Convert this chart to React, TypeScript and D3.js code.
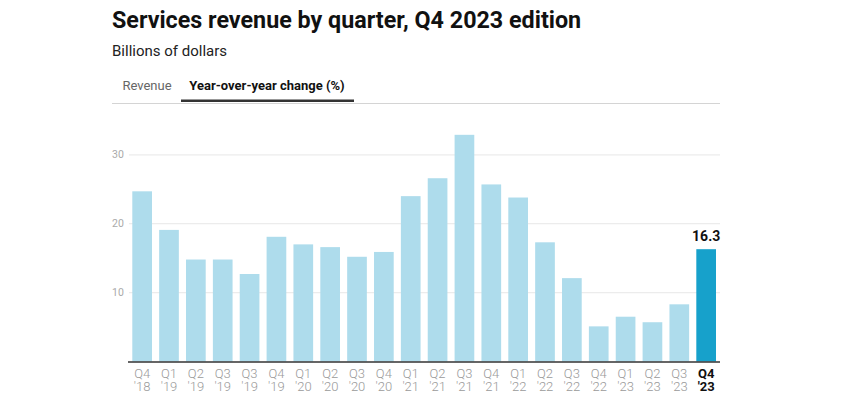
import React from "react";
import * as d3 from "d3";

const quarters = ["Q4","Q1","Q2","Q3","Q3","Q4","Q1","Q2","Q3","Q4","Q1","Q2","Q3","Q4","Q1","Q2","Q3","Q4","Q1","Q2","Q3","Q4"];
const years = ["'18","'19","'19","'19","'19","'19","'20","'20","'20","'20","'21","'21","'21","'21","'22","'22","'22","'22","'23","'23","'23","'23"];
const values = [24.7,19.1,14.8,14.8,12.7,18.1,17.0,16.6,15.2,15.9,24.0,26.6,32.9,25.7,23.8,17.3,12.1,5.1,6.5,5.7,8.3,16.3];
const yTicks = [10, 20, 30];
const tabs = ["Revenue", "Year-over-year change (%)"];

const W = 843, H = 400;
const FONT = "Roboto, 'Noto Sans', sans-serif";

export default function App() {
  const ids = values.map((_, i) => String(i));
  const x = d3.scaleBand<string>().domain(ids).range([132.3, 716]).paddingInner(0.267).paddingOuter(0);
  const y = d3.scaleLinear().domain([0, 10]).range([361.5, 292.6]);
  const last = values.length - 1;
  return (
    <svg width={W} height={H} style={{ position: "absolute", left: 0, top: 0, background: "#fff" }} fontFamily={FONT}>
      <text x={112} y={27.5} fontSize={23.3} fontWeight={700} fill="#111">Services revenue by quarter, Q4 2023 edition</text>
      <text x={112} y={56} fontSize={15} fill="#222">Billions of dollars</text>
      <text x={147} y={89.5} fontSize={13} fill="#666" textAnchor="middle">{tabs[0]}</text>
      <text x={267} y={89.5} fontSize={13} fontWeight={700} fill="#111" textAnchor="middle">{tabs[1]}</text>
      <line x1={112} x2={720} y1={103.5} y2={103.5} stroke="#d4d4d4" strokeWidth={1} />
      <rect x={181} y={99.5} width={173} height={2.5} fill="#333" />
      {yTicks.map(t => (
        <g key={t}>
          <line x1={129} x2={720} y1={y(t)} y2={y(t)} stroke="#ececec" strokeWidth={1.2} />
          <text x={112} y={y(t)} dy="0.35em" fontSize={10.5} fill="#aaa">{t}</text>
        </g>
      ))}
      {values.map((v, i) => (
        <rect key={i} x={x(String(i))} y={y(v)} width={x.bandwidth()} height={y(0) - y(v)}
          fill={i === last ? "#17a1cb" : "#aedcec"} />
      ))}
      <line x1={128} x2={720} y1={y(0) + 0.5} y2={y(0) + 0.5} stroke="#333" strokeWidth={1.5} />
      {values.map((v, i) => {
        const cx = (x(String(i)) || 0) + x.bandwidth() / 2;
        const hl = i === last;
        return (
          <g key={i}>
            <text x={cx} y={377.5} fontSize={13} textAnchor="middle" fill={hl ? "#111" : "#9a9a9a"} fontWeight={hl ? 700 : 300}>{quarters[i]}</text>
            <text x={cx} y={391} fontSize={13} textAnchor="middle" fill={hl ? "#111" : "#9a9a9a"} fontWeight={hl ? 700 : 300}>{years[i]}</text>
          </g>
        );
      })}
      <text x={(x(String(last)) || 0) + x.bandwidth() / 2} y={y(values[last]) - 8} fontSize={14} fontWeight={700} textAnchor="middle" fill="#111">{values[last].toFixed(1)}</text>
    </svg>
  );
}
